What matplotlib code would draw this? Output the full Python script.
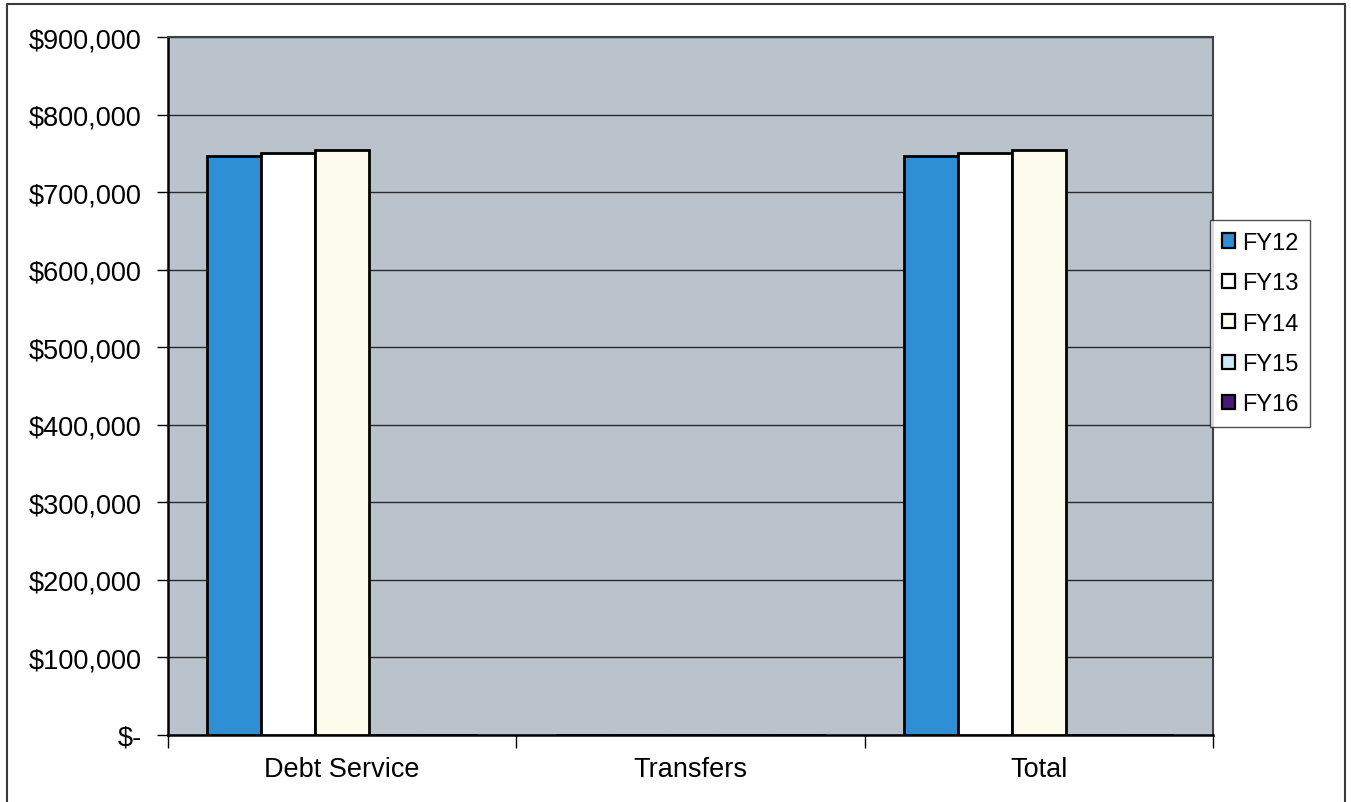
import matplotlib
matplotlib.use("Agg")
import matplotlib.pyplot as plt
from matplotlib.lines import Line2D
import numpy as np

plt.rcParams["font.family"] = ["Liberation Sans", "DejaVu Sans"]

categories = ["Debt Service", "Transfers", "Total"]
series_names = ["FY12", "FY13", "FY14", "FY15", "FY16"]
fy12 = [746000, 0, 746000]
fy13 = [750500, 0, 750500]
fy14 = [754500, 0, 754500]
fy15 = [0, 0, 0]
fy16 = [0, 0, 0]
y_ticks = [0, 100000, 200000, 300000, 400000, 500000, 600000, 700000, 800000, 900000]

colors = ["#2f8fd5", "#ffffff", "#fdfcec", "#cde9f8", "#4a1a78"]

W, H = 1351, 803
fig = plt.figure(figsize=(W / 100, H / 100), dpi=100)
ax = fig.add_axes([168 / W, 1 - 736 / H, 1045 / W, 698 / H])
ax.set_facecolor("#bac2cc")

x = np.arange(len(categories))
bw = 0.155
for i, (name, vals) in enumerate(zip(series_names, [fy12, fy13, fy14, fy15, fy16])):
    ax.bar(x + (i - 2) * bw, vals, width=bw, color=colors[i], edgecolor="black",
           linewidth=2.0, label=name, zorder=3)

ax.set_xlim(-0.5, 2.5)
ax.set_ylim(0, 900000)
ax.set_yticks(y_ticks)
ax.set_yticklabels(["$-"] + [f"${v:,.0f}" for v in y_ticks[1:]], fontsize=19.5)
ax.yaxis.grid(True, color="#2a2a2a", linewidth=1.0, zorder=1)
ax.set_axisbelow(True)

ax.set_xticks(x)
ax.set_xticklabels(categories, fontsize=19.5)
ax.tick_params(axis="x", which="major", length=0, pad=15)
ax.set_xticks([-0.5, 0.5, 1.5, 2.5], minor=True)
ax.tick_params(axis="x", which="minor", length=9, width=1.0, direction="out")
ax.tick_params(axis="y", length=8, width=1.0, direction="out", pad=11)

for side in ["left", "bottom"]:
    ax.spines[side].set_linewidth(1.8)
    ax.spines[side].set_color("black")
for side in ["top", "right"]:
    ax.spines[side].set_linewidth(1.5)
    ax.spines[side].set_color("#3a4448")

leg = ax.legend(loc="upper left", bbox_to_anchor=(1210 / W, 1 - 221 / H),
                bbox_transform=fig.transFigure, borderaxespad=0, fontsize=17,
                frameon=True, fancybox=False, edgecolor="#222222",
                handlelength=0.55, handleheight=0.55, handletextpad=0.3,
                labelspacing=0.78, borderpad=0.5)
leg.get_frame().set_linewidth(1.0)
for h in leg.legend_handles:
    h.set_linewidth(1.6)

# outer chart border (left, top, right)
bx0, bx1, by0 = 7 / W, 1345 / W, 1 - 5 / H
fig.add_artist(Line2D([bx0, bx0, bx1, bx1], [0, by0, by0, 0],
                      transform=fig.transFigure, color="#3a3a3a", linewidth=1.5))

fig.savefig("out.png", dpi=100, facecolor="white")
